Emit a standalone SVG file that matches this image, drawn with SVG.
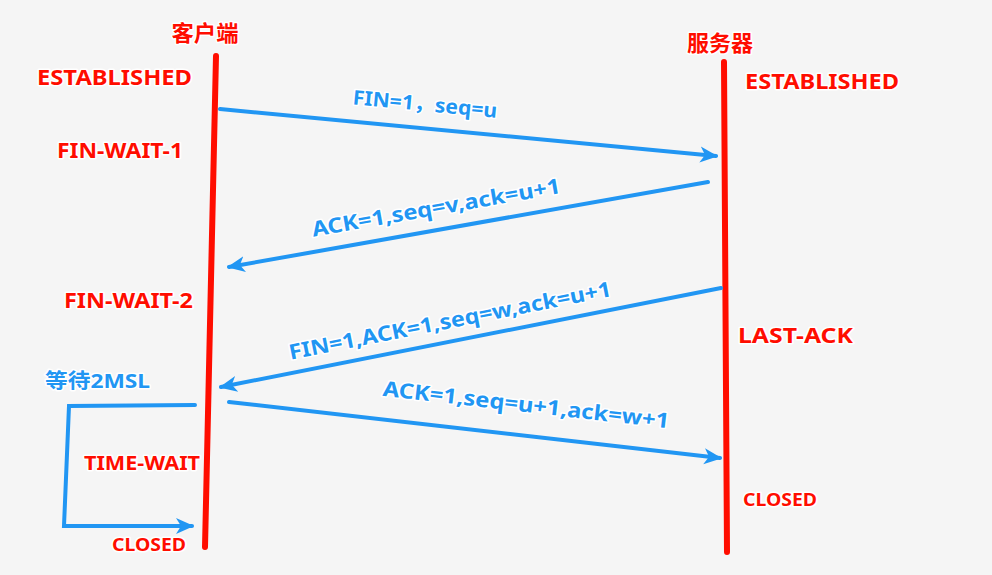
<svg xmlns="http://www.w3.org/2000/svg" width="992" height="575" viewBox="0 0 992 575">
<defs>
<marker id="ah" markerUnits="userSpaceOnUse" markerWidth="20" markerHeight="20" viewBox="0 0 20 20" refX="16" refY="10" orient="auto">
<path d="M0,2 L18,10 L0,18 L5,10 Z" fill="#2196f3"/>
</marker>
<style>
.life{stroke:#ff0d00;stroke-width:6;stroke-linecap:round;fill:none}
.msg{stroke:#2196f3;stroke-width:4;stroke-linecap:round;fill:none}
.t{font-family:"Noto Sans","Noto Sans CJK SC",sans-serif;font-weight:bold;paint-order:stroke;stroke:#fff;stroke-width:3;stroke-linejoin:round}
.red{fill:#ff0d00}
.blue{fill:#2196f3}
</style>
</defs>
<rect width="992" height="575" fill="#f5f5f5"/>
<g id="client">
<line class="life" x1="216" y1="56" x2="205" y2="547"/>
<text class="t red" x="205" y="41" font-size="22" text-anchor="middle" textLength="67" lengthAdjust="spacingAndGlyphs">客户端</text>
</g>
<g id="server">
<line class="life" x1="724" y1="62" x2="727" y2="552"/>
<text class="t red" x="720" y="51" font-size="22" text-anchor="middle" textLength="66" lengthAdjust="spacingAndGlyphs">服务器</text>
</g>
<g id="states">
<text class="t red" x="37" y="85" font-size="21" textLength="155" lengthAdjust="spacingAndGlyphs">ESTABLISHED</text>
<text class="t red" x="57" y="158" font-size="21" textLength="126" lengthAdjust="spacingAndGlyphs">FIN-WAIT-1</text>
<text class="t red" x="745" y="89" font-size="21" textLength="154" lengthAdjust="spacingAndGlyphs">ESTABLISHED</text>
<text class="t red" x="64" y="308" font-size="21" textLength="129" lengthAdjust="spacingAndGlyphs">FIN-WAIT-2</text>
<text class="t red" x="738" y="343" font-size="21" textLength="115" lengthAdjust="spacingAndGlyphs">LAST-ACK</text>
<text class="t red" x="84" y="470" font-size="19" textLength="116" lengthAdjust="spacingAndGlyphs">TIME-WAIT</text>
<text class="t red" x="743" y="506" font-size="17" textLength="74" lengthAdjust="spacingAndGlyphs">CLOSED</text>
<text class="t red" x="112" y="551" font-size="17" textLength="74" lengthAdjust="spacingAndGlyphs">CLOSED</text>
<text class="t blue" x="45" y="388" font-size="20" textLength="105" lengthAdjust="spacingAndGlyphs">等待2MSL</text>
</g>
<g id="connectors">
<line class="msg" x1="220" y1="109" x2="716" y2="156" marker-end="url(#ah)"/>
<line class="msg" x1="708" y1="182" x2="229" y2="267" marker-end="url(#ah)"/>
<line class="msg" x1="721" y1="288" x2="221" y2="387" marker-end="url(#ah)"/>
<line class="msg" x1="229" y1="402" x2="720" y2="458" marker-end="url(#ah)"/>
<polyline class="msg" points="195,405 69,406 64,526 192,526" stroke-linejoin="miter" marker-end="url(#ah)"/>
</g>
<g id="labels">
<text class="t blue" x="425" y="111" font-size="20" text-anchor="middle" textLength="145" lengthAdjust="spacingAndGlyphs" transform="rotate(5.4 425 104)">FIN=1，seq=u</text>
<text class="t blue" x="436" y="215" font-size="21" text-anchor="middle" textLength="252" lengthAdjust="spacingAndGlyphs" transform="rotate(-10 436 208)">ACK=1,seq=v,ack=u+1</text>
<text class="t blue" x="450" y="328" font-size="21" text-anchor="middle" textLength="328" lengthAdjust="spacingAndGlyphs" transform="rotate(-11.2 450 321)">FIN=1,ACK=1,seq=w,ack=u+1</text>
<text class="t blue" x="526" y="412" font-size="21" text-anchor="middle" textLength="288" lengthAdjust="spacingAndGlyphs" transform="rotate(6.5 526 405)">ACK=1,seq=u+1,ack=w+1</text>
</g>
</svg>
